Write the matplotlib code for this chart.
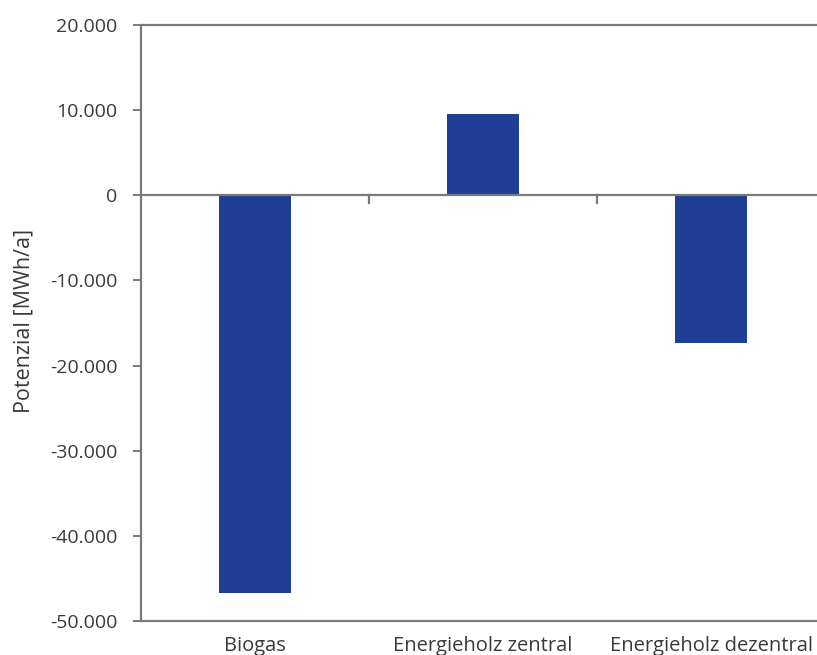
import matplotlib
matplotlib.use("Agg")
import matplotlib.pyplot as plt
from matplotlib.ticker import FuncFormatter, FixedLocator

categories = ["Biogas", "Energieholz zentral", "Energieholz dezentral"]
values = [-46700, 9500, -17400]
y_ticks = [20000, 10000, 0, -10000, -20000, -30000, -40000, -50000]

plt.rcParams["font.family"] = ["Open Sans", "DejaVu Sans"]

fig = plt.figure(figsize=(8.17, 6.55), dpi=100)
ax = fig.add_axes([141 / 817, 34 / 655, 684 / 817, 596 / 655])

x = list(range(len(categories)))
ax.bar(x, values, width=0.316, color="#1F3F96", zorder=3)

ax.set_xlim(-0.5, len(categories) - 0.5)
ax.set_ylim(-50000, 20000)

axis_color = "#7a7a7a"
for side in ["left", "top", "bottom"]:
    ax.spines[side].set_color(axis_color)
    ax.spines[side].set_linewidth(1.6)
ax.spines["right"].set_visible(False)

# zero line with category separators
ax.axhline(0, color=axis_color, lw=1.6, zorder=4)
for b in [0.5, 1.5]:
    ax.plot([b, b], [0, -900], color=axis_color, lw=1.6, zorder=4, clip_on=False)

ax.yaxis.set_major_locator(FixedLocator(y_ticks))
ax.yaxis.set_major_formatter(FuncFormatter(lambda v, p: f"{int(v):,}".replace(",", ".")))
ax.tick_params(axis="y", direction="out", length=6, width=1.4, color=axis_color,
               labelsize=14, labelcolor="#3a3a3a", pad=11)

ax.set_xticks(x)
ax.set_xticklabels(categories)
ax.tick_params(axis="x", length=0, labelsize=14.5, labelcolor="#3a3a3a", pad=11)

ax.set_ylabel("Potenzial [MWh/a]", fontsize=15.5, color="#3a3a3a")
ax.yaxis.set_label_coords(-0.155, 0.503)

fig.savefig("out.png", dpi=100)
